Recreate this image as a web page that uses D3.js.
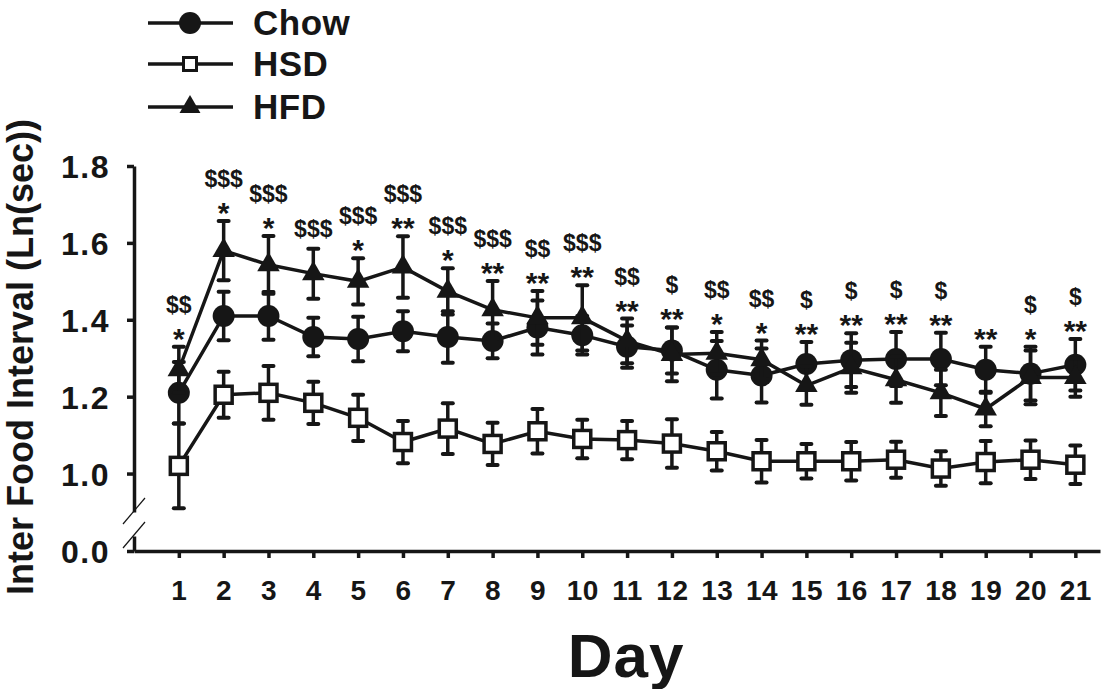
<!DOCTYPE html>
<html>
<head>
<meta charset="utf-8">
<script src="https://cdn.jsdelivr.net/npm/d3@7"></script>
<style>
  body { margin: 0; background: #fff; }
  svg text { font-family: "Liberation Sans", Arial, sans-serif; fill: #161616; }
</style>
</head>
<body>
<svg id="chart" width="1115" height="689"></svg>
<script>
// values
var days = [1,2,3,4,5,6,7,8,9,10,11,12,13,14,15,16,17,18,19,20,21]
var chow = [1.21,1.41,1.41,1.355,1.35,1.37,1.355,1.345,1.38,1.36,1.33,1.32,1.27,1.255,1.285,1.295,1.298,1.298,1.27,1.26,1.283]
var chowErr = [0.08,0.063,0.062,0.05,0.058,0.052,0.067,0.045,0.07,0.05,0.055,0.06,0.075,0.07,0.057,0.07,0.07,0.068,0.06,0.07,0.067]
var hsd = [1.02,1.205,1.21,1.184,1.145,1.082,1.117,1.077,1.11,1.09,1.087,1.078,1.058,1.032,1.032,1.032,1.036,1.013,1.03,1.036,1.023]
var hsdErr = [0.11,0.06,0.07,0.055,0.06,0.055,0.066,0.055,0.058,0.05,0.05,0.063,0.05,0.055,0.045,0.05,0.047,0.045,0.055,0.05,0.05]
var hfd = [1.27,1.58,1.543,1.52,1.50,1.537,1.474,1.426,1.405,1.405,1.345,1.31,1.313,1.296,1.229,1.275,1.244,1.21,1.168,1.25,1.25]
var hfdErr = [0.06,0.077,0.075,0.065,0.06,0.08,0.06,0.075,0.07,0.085,0.058,0.07,0.055,0.05,0.05,0.065,0.06,0.06,0.045,0.07,0.05]
var dollars = ["$$","$$$","$$$","$$$","$$$","$$$","$$$","$$$","$$","$$$","$$","$","$$","$$","$","$","$","$","","$","$"]
var stars = ["*","*","*","","*","**","*","**","**","**","**","**","*","*","**","**","**","**","**","*","**"]
var yTicks = [1.0,1.2,1.4,1.6,1.8]
var yLowTicks = [0.0]
var seriesNames = ["Chow","HSD","HFD"]

var ink = "#161616"
var svg = d3.select("#chart")

var x = d3.scaleLinear().domain([0, 21.55]).range([134, 1100])
var y = d3.scaleLinear().domain([0.9, 1.8]).range([512, 166])
var yLow = d3.scaleLinear().domain([0, 0.04]).range([551, 536])

// axes
var yAxis = svg.append("g").attr("transform","translate(134,0)")
  .call(d3.axisLeft(y).tickValues(yTicks).tickFormat(d3.format(".1f")).tickSize(7).tickSizeOuter(0).tickPadding(17))
var yAxisLow = svg.append("g").attr("transform","translate(134,0)")
  .call(d3.axisLeft(yLow).tickValues(yLowTicks).tickFormat(d3.format(".1f")).tickSize(7).tickSizeOuter(0).tickPadding(17))
var xAxis = svg.append("g").attr("transform","translate(0,551)")
  .call(d3.axisBottom(x).tickValues(days).tickFormat(d3.format("d")).tickSize(7).tickSizeOuter(0).tickPadding(22))

svg.selectAll(".domain").attr("stroke",ink).attr("stroke-width",3.5)
svg.selectAll(".tick line").attr("stroke",ink).attr("stroke-width",3.5)
yAxis.selectAll("text").attr("font-size","32px").attr("font-weight","bold").attr("letter-spacing","1.5px").attr("dy","0.36em")
yAxisLow.selectAll("text").attr("font-size","32px").attr("font-weight","bold").attr("letter-spacing","1.5px").attr("dy","0.36em")
xAxis.selectAll("text").attr("font-size","28px").attr("font-weight","bold").attr("letter-spacing","0.5px")

// axis break marks
var breaks = [y(0.9), yLow(0.04)]
svg.selectAll(".brk").data(breaks).enter().append("line").attr("class","brk")
  .attr("x1",123).attr("y1",function(d){return d+12})
  .attr("x2",145).attr("y2",function(d){return d-14})
  .attr("stroke",ink).attr("stroke-width",1.2)

// axis titles
svg.append("text").text("Inter Food Interval (Ln(sec))")
  .attr("transform","translate(33,357) rotate(-90)").attr("text-anchor","middle")
  .attr("font-size","36px").attr("font-weight","bold")
svg.append("text").text("Day").attr("x",626).attr("y",677).attr("text-anchor","middle")
  .attr("font-size","62px").attr("font-weight","bold").attr("letter-spacing","1px")

// series
var series = [
  {name:"Chow", vals:chow, errs:chowErr, shape:"circle"},
  {name:"HSD", vals:hsd, errs:hsdErr, shape:"square"},
  {name:"HFD", vals:hfd, errs:hfdErr, shape:"triangle"}
]

var line = d3.line().x(function(d){return x(d[0])}).y(function(d){return y(d[1])})

function drawMarker(g, shape, cx, cy, big) {
  if (shape == "circle") {
    g.append("circle").attr("cx",cx).attr("cy",cy).attr("r",11).attr("fill",ink)
  } else if (shape == "square") {
    var s = big ? 17 : 13
    g.append("rect").attr("x",cx-s/2).attr("y",cy-s/2).attr("width",s).attr("height",s)
      .attr("fill","#fff").attr("stroke",ink).attr("stroke-width",big ? 3.5 : 3)
  } else {
    g.append("path").attr("d",d3.symbol().type(d3.symbolTriangle).size(big ? 220 : 190)())
      .attr("transform","translate("+cx+","+cy+")").attr("fill",ink)
  }
}

series.forEach(function(s){
  var g = svg.append("g")
  var pts = days.map(function(d,i){return [d, s.vals[i], s.errs[i]]})
  // error bars
  g.selectAll(".eb").data(pts).enter().append("line")
    .attr("x1",function(d){return x(d[0])}).attr("x2",function(d){return x(d[0])})
    .attr("y1",function(d){return y(d[1]-d[2])}).attr("y2",function(d){return y(d[1]+d[2])})
    .attr("stroke",ink).attr("stroke-width",3.5)
  g.selectAll(".capU").data(pts).enter().append("line")
    .attr("x1",function(d){return x(d[0])-5}).attr("x2",function(d){return x(d[0])+5})
    .attr("y1",function(d){return y(d[1]+d[2])}).attr("y2",function(d){return y(d[1]+d[2])})
    .attr("stroke",ink).attr("stroke-width",4).attr("stroke-linecap","round")
  g.selectAll(".capL").data(pts).enter().append("line")
    .attr("x1",function(d){return x(d[0])-5}).attr("x2",function(d){return x(d[0])+5})
    .attr("y1",function(d){return y(d[1]-d[2])}).attr("y2",function(d){return y(d[1]-d[2])})
    .attr("stroke",ink).attr("stroke-width",4).attr("stroke-linecap","round")
  g.append("path").datum(pts).attr("d",line).attr("fill","none").attr("stroke",ink).attr("stroke-width",3.5)
  pts.forEach(function(p){ drawMarker(g, s.shape, x(p[0]), y(p[1]), true) })
})

// significance marks above the highest error bar of each day
days.forEach(function(d,i){
  var top = d3.min(series, function(s){return y(s.vals[i]+s.errs[i])})
  var starBase = top + 2
  if (stars[i] != "") {
    svg.append("text").text(stars[i]).attr("x",x(d)).attr("y",starBase)
      .attr("text-anchor","middle").attr("font-size","30px").attr("font-weight","bold")
  }
  var dolBase = stars[i] != "" ? starBase - 36 : top - 12
  if (dollars[i] != "") {
    svg.append("text").text(dollars[i]).attr("x",x(d)).attr("y",dolBase)
      .attr("text-anchor","middle").attr("font-size","23px").attr("font-weight","bold")
  }
})

// legend
var legY = [23, 64, 107]
series.forEach(function(s,i){
  var g = svg.append("g")
  g.append("line").attr("x1",148).attr("x2",233).attr("y1",legY[i]).attr("y2",legY[i])
    .attr("stroke",ink).attr("stroke-width",3.5)
  drawMarker(g, s.shape, 190, legY[i], false)
  g.append("text").text(seriesNames[i]).attr("x",253).attr("y",legY[i]+12)
    .attr("font-size","35px").attr("font-weight","bold").attr("letter-spacing","0.5px")
})
</script>
</body>
</html>
